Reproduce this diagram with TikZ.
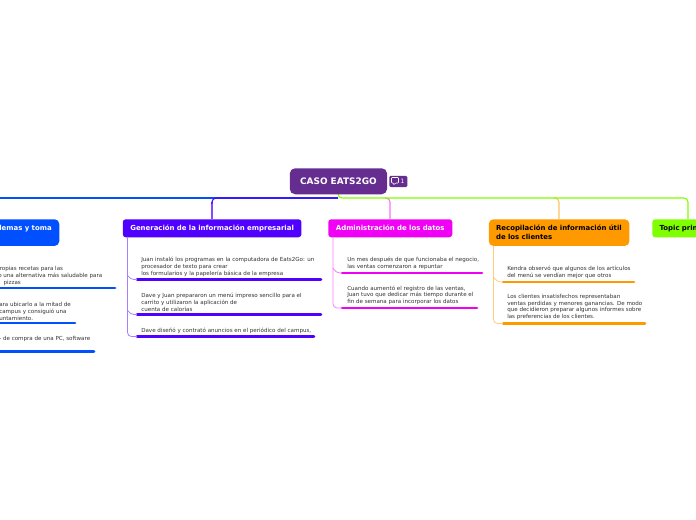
\documentclass[tikz,border=0pt]{standalone}
\usepackage{fontspec}
\setmainfont{DejaVu Sans}
\definecolor{cblue}{HTML}{0050FF}
\definecolor{cviolet}{HTML}{5000FF}
\definecolor{cmag}{HTML}{F000F5}
\definecolor{corange}{HTML}{FF9900}
\definecolor{cgreen}{HTML}{80FF00}
\definecolor{cpurple}{HTML}{662D91}
\definecolor{ctext}{HTML}{333333}
\tikzset{
 x=0.75pt,y=-0.75pt,
 topic/.style={rounded corners=2.2pt,minimum height=13.5pt,inner sep=0pt,font=\fontsize{5.2}{6.75}\selectfont\bfseries,align=left,anchor=north west},
 sub/.style={inner sep=0pt,anchor=south west,font=\fontsize{4.17}{5.05}\selectfont,text=ctext,align=left},
 bar/.style={line width=2.2pt,line cap=round},
 conn/.style={line width=0.8pt,rounded corners=3pt},
 tip/.style={line width=0.6pt,rounded corners=3pt},
}
\begin{document}
\begin{tikzpicture}
\useasboundingbox (0,0) rectangle (696,520);
\clip (0,0) rectangle (696,520);
\fill[white] (0,0) rectangle (696,520);
% trunk
\draw[conn,cmag!55] (385,198) -- (390,198) -- (390,219);
\draw[conn,corange!60] (554,198) -- (559,198) -- (559,219);
\draw[conn,cblue] (338,198) -- (-20,198);
\draw[conn,cviolet!70] (212,202) -- (212,219);
\draw[conn,cviolet] (338,198) -- (212,198) -- (212,204);
\draw[conn,cgreen] (338,194) -- (338,198) -- (688,198) -- (688,219);
% root
\node[rounded corners=4pt,fill=cpurple,text=white,inner sep=0pt,minimum width=73pt,minimum height=19.5pt,anchor=north west,font=\fontsize{6.7}{8}\selectfont\bfseries] (root) at (289.5,168) {CASO EATS2GO};
\node[rounded corners=1pt,fill=cpurple,text=white,inner sep=0pt,minimum width=13.5pt,minimum height=8.5pt,anchor=north west,font=\fontsize{4.5}{5}\selectfont] (badge) at (389,175.5) {\hspace{6.5pt}1};
\draw[white,line width=0.4pt,rounded corners=0.6pt] (391.5,177.5) -- (398.5,177.5) -- (398.5,183) -- (395.5,183) -- (393.5,185) -- (393.5,183) -- (391.5,183) -- cycle;
% topics
\node[topic,fill=cblue,minimum width=90pt,minimum height=20pt,rounded corners=3.5pt] (t1) at (-61,219) {};
\node[anchor=west,inner sep=0pt,text=white,font=\fontsize{5.2}{6.75}\selectfont\bfseries] (t1a) at (-1,228.5) {lemas y toma};
\node[topic,fill=cviolet,text=white,minimum width=134pt,text width=134pt,align=center] (t2) at (122.5,219) {Generación de la información empresarial};
\node[topic,fill=cmag,text=white,minimum width=93pt,text width=93pt,align=center] (t3) at (328,219) {Administración de los datos};
\node[topic,fill=corange,text=black,minimum width=105.5pt,minimum height=20pt,rounded corners=3.5pt,text width=94.5pt,inner xsep=5.5pt,anchor=north west] (t4) at (488.5,219) {Recopilación de información útil\\de los clientes};
\node[topic,fill=cgreen,text=black,minimum width=60pt,text width=49pt,inner xsep=5.5pt] (t5) at (652,219) {Topic prin};
% t1 children
\node[sub] (a1) at (-2,285.5) {\hspace*{-1.5pt}propias recetas para las\\o una alternativa más saludable para\\\hspace*{4pt}pizzas};
\draw[bar,cblue] (-10,288) -- (115,288);
\node[sub] (a2) at (-1,320.5) {ara ubicarlo a la mitad de\\campus y consiguió una\\untamiento.};
\draw[bar,cblue] (-10,323) -- (75,323);
\node[sub] (a3) at (-1,341.5) {- de compra de una PC, software};
\draw[bar,cblue] (-10,351.5) -- (94,351.5);
% t2 children
\node[sub] (b1) at (141,276.7) {Juan instaló los programas en la computadora de Eats2Go: un\\procesador de texto para crear\\los formularios y la papelería básica de la empresa};
\draw[bar,cviolet] (137,279.5) -- (321,279.5);
\node[sub] (b2) at (141,311.7) {Dave y Juan prepararon un menú impreso sencillo para el\\carrito y utilizaron la aplicación de\\cuenta de calorías};
\draw[bar,cviolet] (137,314.5) -- (321,314.5);
\node[sub] (b3) at (141,333.7) {Dave diseñó y contrató anuncios en el periódico del campus,};
\draw[bar,cviolet] (137,336.5) -- (314,336.5);
\draw[tip,cviolet!50] (127.5,237) -- (127.5,336.5) -- (137,336.5);
\draw[tip,cviolet!50] (127.5,275) -- (130,279.5) -- (137,279.5);
\draw[tip,cviolet!50] (127.5,310) -- (130,314.5) -- (137,314.5);
% t3 children
\node[sub] (c1) at (347,270) {Un mes después de que funcionaba el negocio,\\las ventas comenzaron a repuntar};
\draw[bar,cmag] (342,273) -- (482,273);
\node[sub] (c2) at (347,305) {Cuando aumentó el registro de las ventas,\\Juan tuvo que dedicar más tiempo durante el\\fin de semana para incorporar los datos};
\draw[bar,cmag] (342,308) -- (477,308);
\draw[tip,cmag!50] (333,237) -- (333,308) -- (342,308);
\draw[tip,cmag!50] (333,268) -- (336,273) -- (342,273);
% t4 children
\node[sub] (d1) at (507,278.5) {Kendra observó que algunos de los artículos\\del menú se vendían mejor que otros};
\draw[bar,corange] (503,282) -- (634,282);
\node[sub] (d2) at (507,320) {Los clientes insatisfechos representaban\\ventas perdidas y menores ganancias. De modo\\que decidieron preparar algunos informes sobre\\las preferencias de los clientes.};
\draw[bar,corange] (503,323.5) -- (645,323.5);
\draw[tip,corange!50] (493.5,246) -- (493.5,323.5) -- (503,323.5);
\draw[tip,corange!50] (493.5,277) -- (497,282) -- (503,282);
\end{tikzpicture}
\end{document}
